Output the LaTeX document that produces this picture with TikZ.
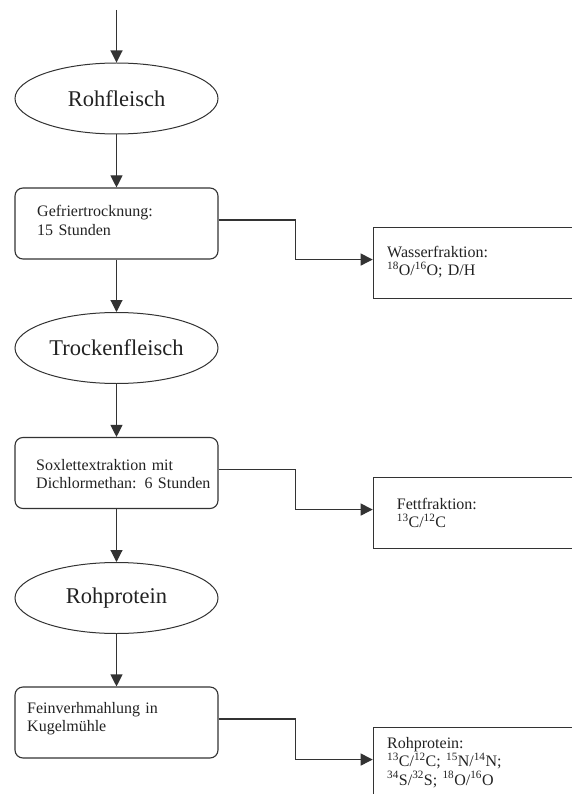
\documentclass[tikz,border=0pt]{standalone}
\usepackage{fontspec}
\setmainfont{Liberation Serif}
\usetikzlibrary{arrows.meta,shapes.geometric}
\definecolor{ink}{HTML}{333333}
\definecolor{inktext}{HTML}{222222}
\tikzset{
    EL1/.style ={ellipse, minimum width = 203pt, minimum height = 71pt, inner sep=0pt, draw=ink, line width=1pt, text=inktext, font=\fontsize{22.5}{26}\selectfont},
    RB1/.style ={rectangle, rounded corners=8pt, minimum width = 203pt, minimum height = 71pt, draw=ink, line width=1.1pt},
    RA1/.style ={rectangle, minimum width = 280pt, minimum height = 71pt, anchor=north west, draw=ink, line width=1.1pt},
    TX1/.style ={anchor=base west, inner sep=0pt, text width=190pt, align=left, text=inktext, font=\fontsize{16}{18.5}\selectfont},
    AR1/.style ={-{Triangle[length=12pt,width=12pt]}, draw=ink, line width=1.1pt}
}

\begin{document}
\begin{tikzpicture}[x=1pt,y=1pt]
        \useasboundingbox (0,0) rectangle (572,-794);
        \clip (0,0) rectangle (572,-794);
        % left column
        \coordinate (in) at (116.5,-10);
        \node[EL1] (e1) at (116.5,-98.5) {Rohfleisch};
        \node[RB1] (g1) at (116.5,-223.5) {};
        \node[EL1] (e2) at (116.5,-348) {Trockenfleisch};
        \node[RB1] (g2) at (116.5,-473) {};
        \node[EL1] (e3) at (116.5,-598) {Rohprotein};
        \node[RB1] (g3) at (116.5,-722.5) {};
        \node[TX1] (t1) at (37,-217) {Gefriertrocknung:\\15 Stunden};
        \node[TX1] (t2) at (36,-470) {Soxlettextraktion mit\\Dichlormethan: 6 Stunden};
        \node[TX1] (t3) at (27,-713) {Feinverhmahlung in\\Kugelmühle};
        % right column
        \node[RA1] (w1) at (372.7,-227) {};
        \node[RA1] (w2) at (372.7,-477) {};
        \node[RA1] (w3) at (372.7,-727) {};
        \node[TX1] (s1) at (387,-257) {Wasserfraktion:\\\textsuperscript{18}O/\textsuperscript{16}O; D/H};
        \node[TX1] (s2) at (396.7,-509) {Fettfraktion:\\\textsuperscript{13}C/\textsuperscript{12}C};
        \node[TX1] (s3) at (387,-748) {Rohprotein:\\\textsuperscript{13}C/\textsuperscript{12}C; \textsuperscript{15}N/\textsuperscript{14}N;\\\textsuperscript{34}S/\textsuperscript{32}S; \textsuperscript{18}O/\textsuperscript{16}O};
        % connectors
        \draw[AR1] (in) -- (e1);
        \draw[AR1] (e1) -- (g1);
        \draw[AR1] (g1) -- (e2);
        \draw[AR1] (e2) -- (g2);
        \draw[AR1] (g2) -- (e3);
        \draw[AR1] (e3) -- (g3);
        \draw[AR1] ([yshift=3.5]g1.east) -- ++(77,0) |- ([yshift=3.5]w1.west);
        \draw[AR1] ([yshift=3.5]g2.east) -- ++(77,0) |- ([yshift=3.5]w2.west);
        \draw[AR1] ([yshift=3.5]g3.east) -- ++(77,0) |- ([yshift=3.5]w3.west);
    \end{tikzpicture}
\end{document}
